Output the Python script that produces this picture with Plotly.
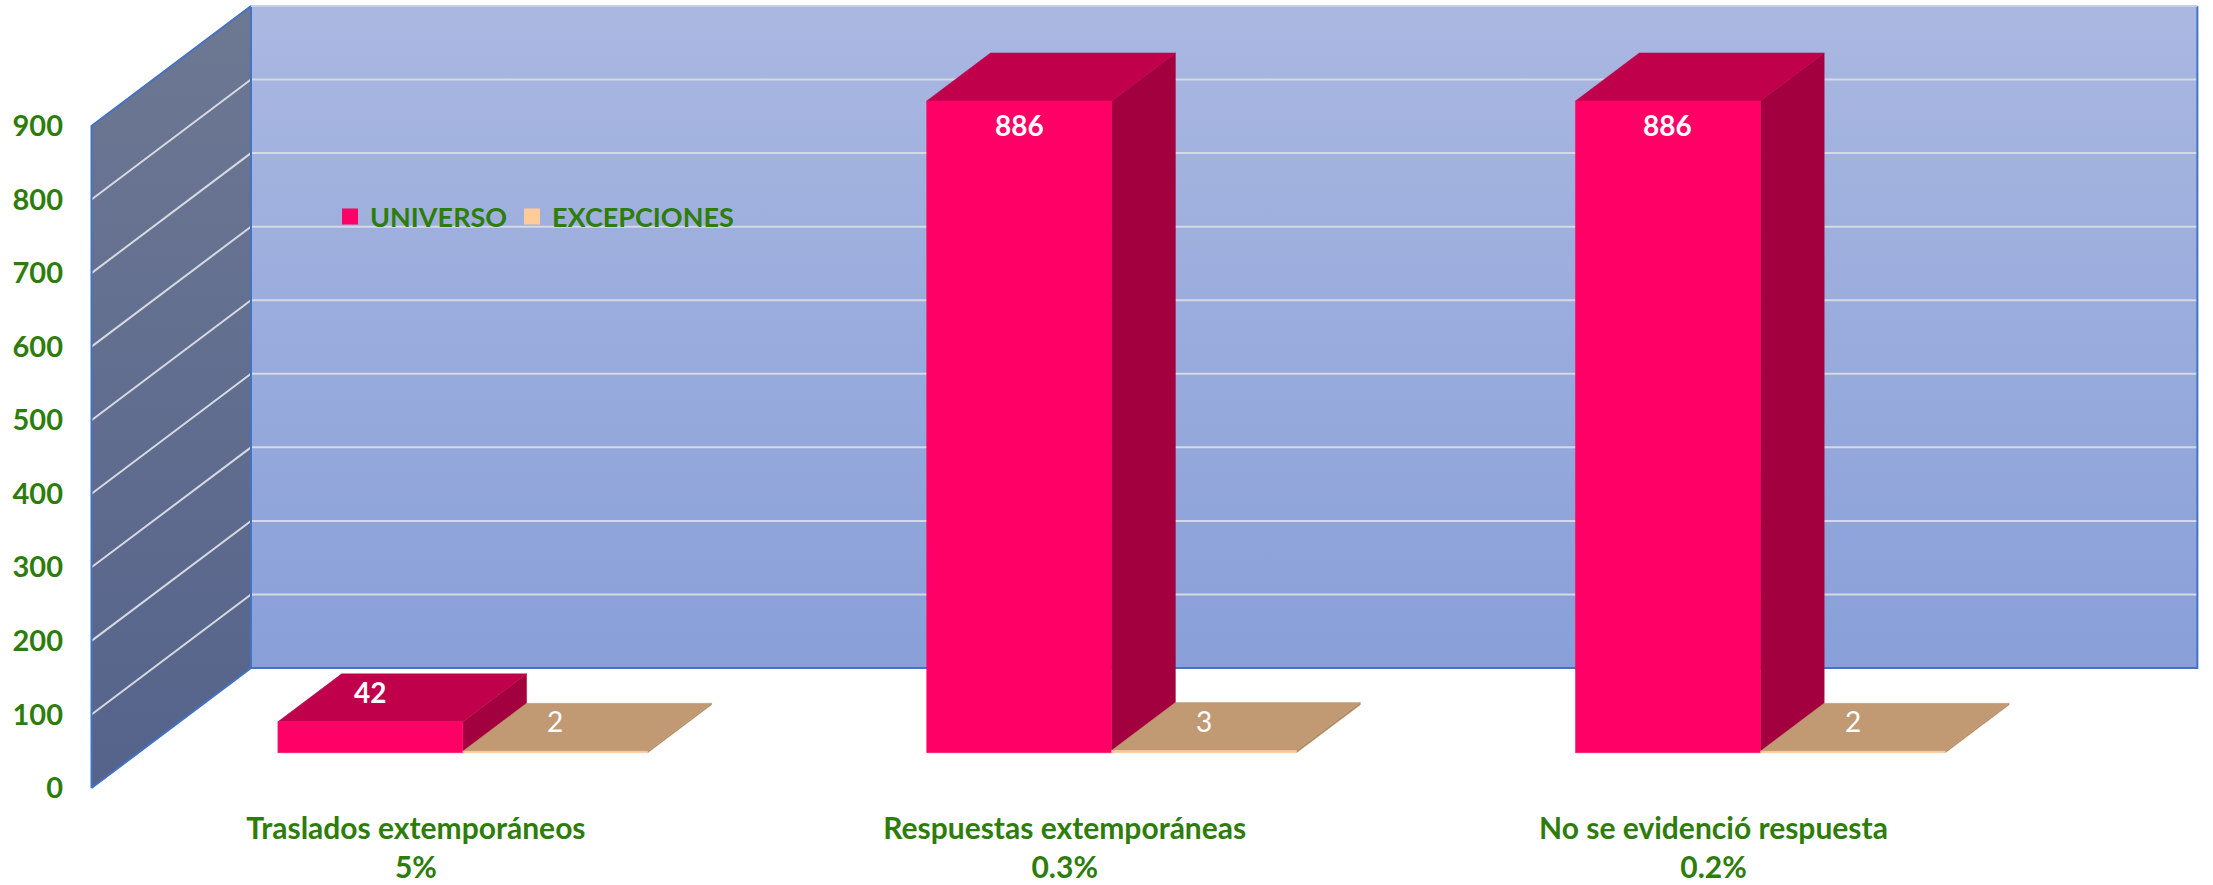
import plotly.graph_objects as go

# ---------------- data ----------------
categories = ["Traslados extemporáneos", "Respuestas extemporáneas", "No se evidenció respuesta"]
percent_labels = ["5%", "0.3%", "0.2%"]
universo = [42, 886, 886]
excepciones = [2, 3, 2]
series_names = ["UNIVERSO", "EXCEPCIONES"]
y_ticks = [0, 100, 200, 300, 400, 500, 600, 700, 800, 900]
y_max = 900

# ---------------- style ----------------
W, H = 2213, 885
ML, MR, MT, MB = 80, 0, 0, 90
PX_X = 648.8          # px per category unit
PX_Y = 0.7356         # px per value unit
DX, DY = 0.2458, 163.1  # depth vector (category units, value units)
Z0, Z1 = 0.294, 0.694   # bar depth span
BW = 0.285              # bar width in category units
GREEN = "#2E7D0C"
FONT = "Lato"
BLUE = "#4472C4"
GRID = "#D6D9E2"

plot_w = W - ML - MR
plot_h = H - MT - MB
x_left = -0.5 - 11.5 / PX_X
x_range = [x_left, x_left + plot_w / PX_X]
y_bottom = -7 / PX_Y
y_range = [y_bottom, y_bottom + plot_h / PX_Y]

n = len(categories)
x_lo, x_hi = -0.5, n - 0.5


def P(x, y, z):
    return x + z * DX, y + z * DY


def poly(points, fill, line_color=None, line_width=0, gradient=None):
    xs, ys = [], []
    for p in points:
        px, py = P(*p)
        xs.append(px)
        ys.append(py)
    xs.append(xs[0])
    ys.append(ys[0])
    kw = dict(x=xs, y=ys, mode="lines", fill="toself", showlegend=False,
              hoverinfo="skip",
              line=dict(color=line_color or fill, width=line_width if line_width else 0.5))
    if gradient:
        kw["fillgradient"] = dict(type="vertical", colorscale=gradient)
    else:
        kw["fillcolor"] = fill
    return go.Scatter(**kw)


fig = go.Figure()

# left wall
fig.add_trace(poly([(x_lo, 0, 0), (x_lo, y_max, 0), (x_lo, y_max, 1), (x_lo, 0, 1)],
                   "#5F6C8F", gradient=[[0, "#55638B"], [1, "#6D7892"]]))
# back wall
fig.add_trace(poly([(x_lo, 0, 1), (x_lo, y_max, 1), (x_hi, y_max, 1), (x_hi, 0, 1)],
                   "#9AAADC", gradient=[[0, "#889FD8"], [1, "#AAB8E1"]]))

# gridlines
gx, gy = [], []
for v in y_ticks[1:-1]:
    for p in [(x_lo, v, 0), (x_lo, v, 1), (x_hi, v, 1)]:
        a, b = P(*p)
        gx.append(a)
        gy.append(b)
    gx.append(None)
    gy.append(None)
fig.add_trace(go.Scatter(x=gx, y=gy, mode="lines", line=dict(color=GRID, width=2),
                         showlegend=False, hoverinfo="skip"))

# wall borders
bx, by = [], []
for seg in [
    [(x_lo, 0, 0), (x_lo, y_max, 0), (x_lo, y_max, 1), (x_lo, 0, 1), (x_lo, 0, 0)],
    [(x_lo, 0, 1), (x_hi, 0, 1), (x_hi, y_max, 1)],
]:
    for p in seg:
        a, b = P(*p)
        bx.append(a)
        by.append(b)
    bx.append(None)
    by.append(None)
fig.add_trace(go.Scatter(x=bx, y=by, mode="lines", line=dict(color=BLUE, width=2),
                         showlegend=False, hoverinfo="skip"))
tx, ty = [], []
for p in [(x_lo, y_max, 1), (x_hi, y_max, 1)]:
    a, b = P(*p)
    tx.append(a)
    ty.append(b)
fig.add_trace(go.Scatter(x=tx, y=ty, mode="lines", line=dict(color="#C5CFEA", width=2),
                         showlegend=False, hoverinfo="skip"))

# bars
styles = [
    dict(front="#FF0066", top="#C0004B", side="#A3003F", legend="#FF0066"),
    dict(front="#F9C89A", top="#C19A73", side="#B08862", legend="#FFCC99"),
]
annotations = []
for i in range(n):
    for s, values in enumerate([universo, excepciones]):
        v = values[i]
        x0 = i - BW if s == 0 else i
        x1 = x0 + BW
        st = styles[s]
        fig.add_trace(poly([(x1, 0, Z0), (x1, v, Z0), (x1, v, Z1), (x1, 0, Z1)], st["side"]))
        fig.add_trace(poly([(x0, v, Z0), (x1, v, Z0), (x1, v, Z1), (x0, v, Z1)], st["top"]))
        fig.add_trace(poly([(x0, 0, Z0), (x1, 0, Z0), (x1, v, Z0), (x0, v, Z0)], st["front"]))
        lx, ly = P((x0 + x1) / 2, v, Z0)
        annotations.append(dict(
            x=lx, y=ly, xref="x", yref="y", text=f"<b>{v}</b>" if s == 0 else str(v),
            showarrow=False, yshift=-24 if v > 100 else 30,
            font=dict(family=FONT, size=28, color="white")))

# legend entries (one legend box per series so each can be placed precisely)
legend_keys = ["legend", "legend2"]
for s, name in enumerate(series_names):
    fig.add_trace(go.Scatter(x=[None], y=[None], mode="markers", name=name,
                             legend=legend_keys[s],
                             marker=dict(symbol="square", size=18, color=styles[s]["legend"])))

tick_text = [f"<b>{c}<br>{p}</b>" for c, p in zip(categories, percent_labels)]

legend_font = dict(family=FONT, size=27, color=GREEN, weight="bold")
legend_common = dict(orientation="h", xanchor="left", y=1 - 217 / plot_h, yanchor="middle",
                     bgcolor="rgba(0,0,0,0)", font=legend_font)

fig.update_layout(
    width=W, height=H,
    margin=dict(l=ML, r=MR, t=MT, b=MB, pad=0),
    paper_bgcolor="white", plot_bgcolor="white",
    showlegend=True,
    legend=dict(x=(343 - ML - 13) / plot_w, **legend_common),
    legend2=dict(x=(525 - ML - 13) / plot_w, **legend_common),
    annotations=annotations,
    xaxis=dict(range=x_range, tickvals=list(range(n)), ticktext=tick_text,
               showgrid=False, zeroline=False, showline=False, ticks="",
               tickfont=dict(family=FONT, size=30, color=GREEN),
               ticklabelstandoff=13, fixedrange=True),
    yaxis=dict(range=y_range, tickvals=y_ticks, ticktext=[f"<b>{t}</b>" for t in y_ticks],
               showgrid=False, zeroline=False, showline=False, ticks="",
               tickfont=dict(family=FONT, size=29, color=GREEN),
               ticklabelstandoff=16, fixedrange=True),
    hovermode=False,
)

fig.write_html("out.html")
